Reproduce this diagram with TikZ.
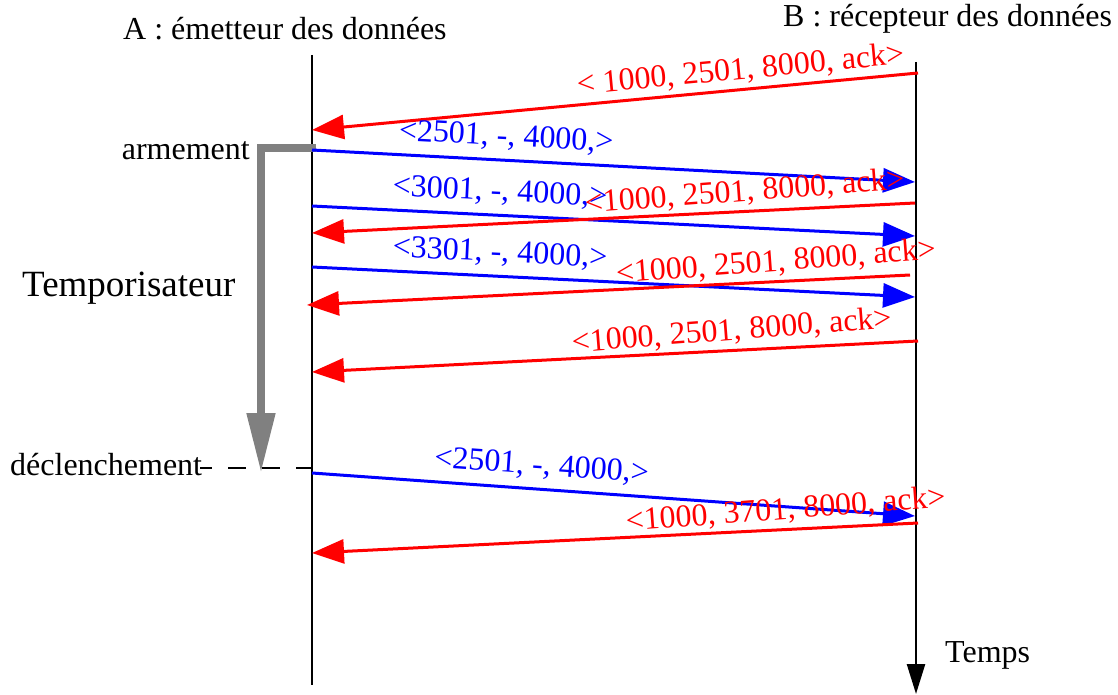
\documentclass[tikz,border=0pt]{standalone}
\usepackage{fontspec}
\setmainfont{Liberation Serif}
\usetikzlibrary{arrows.meta}
\tikzset{
  axe/.style = {line width=2.5pt},
  ack/.style = {red, line width=3pt, -{Triangle[length=32pt, width=24pt]}},
  data/.style = {blue, line width=3pt, -{Triangle[length=32pt, width=24pt]}},
  lbl/.style = {font=\fontsize{32}{38}\selectfont, sloped, inner sep=0pt},
  acklbl/.style = {lbl, rotate=1.5},
  txt/.style = {font=\fontsize{32}{38}\selectfont, inner sep=0pt}
}
\begin{document}
\begin{tikzpicture}[x = 1pt, y = -1pt]
	\useasboundingbox (0,0) rectangle (1118,695);
	% lignes de vie
	\coordinate (Ahaut) at (312,55);
	\coordinate (Abas) at (312,685);
	\coordinate (Bhaut) at (916,62);
	\coordinate (Bbas) at (916,694);
	\draw[axe] (Ahaut)--(Abas);
	\draw[axe, -{Triangle[length=30pt, width=18pt]}] (Bhaut)--(Bbas);
	\node[txt, anchor = base west] (emetteur) at (123,40) {A : émetteur des données};
	\node[txt, anchor = base west] (recepteur) at (783,27) {B : récepteur des données};
	\node[txt, anchor = base west] (temps) at (945,662) {Temps};
	% temporisateur
	\node[txt, anchor = base east] (armement) at (250,160) {armement};
	\node[txt, anchor = base west, font=\fontsize{37}{44}\selectfont] (tempo) at (22,296) {Temporisateur};
	\node[txt, anchor = base west] (declenchement) at (10,475) {déclenchement};
	\coordinate (Tdebut) at (316,148);
	\coordinate (Tcoin) at (261,148);
	\coordinate (Tfin) at (261,473);
	\draw[gray, line width=8pt, -{Triangle[length=60pt, width=27pt]}] (Tdebut)--(Tcoin)--(Tfin);
	\coordinate (Ddebut) at (200,468);
	\coordinate (Dfin) at (312,468);
	\draw[line width=1.5pt, dash pattern=on 18pt off 16pt, dash phase=6pt] (Ddebut)--(Dfin);
	% segments
	\coordinate (B1) at (918,73);  \coordinate (A1) at (312,130);
	\coordinate (A2) at (312,150); \coordinate (B2) at (915,182);
	\coordinate (A3) at (312,206); \coordinate (B3) at (915,236);
	\coordinate (B4) at (915,203); \coordinate (A4) at (312,233);
	\coordinate (A5) at (312,267); \coordinate (B5) at (915,297);
	\coordinate (B6) at (910,275); \coordinate (A6) at (307,305);
	\coordinate (B7) at (918,341); \coordinate (A7) at (312,372);
	\coordinate (A8) at (312,473); \coordinate (B8) at (915,516);
	\coordinate (B9) at (918,523); \coordinate (A9) at (312,553);
	\draw[ack] (B1)--(A1) node[lbl, pos=.29, above=4pt] {< 1000, 2501, 8000, ack>};
	\draw[data] (A2)--(B2) node[lbl, pos=.32, above=8pt] {<2501, -, 4000,>};
	\draw[data] (A3)--(B3) node[lbl, pos=.31, above=8pt] {<3001, -, 4000,>};
	\draw[ack] (B4)--(A4) node[acklbl, pos=.28, above=4pt] {<1000, 2501, 8000, ack>};
	\draw[data] (A5)--(B5) node[lbl, pos=.31, above=8pt] {<3301, -, 4000,>};
	\draw[ack] (B6)--(A6) node[acklbl, pos=.22, above=4pt] {<1000, 2501, 8000, ack>};
	\draw[ack] (B7)--(A7) node[acklbl, pos=.305, above=4pt] {<1000, 2501, 8000, ack>};
	\draw[data] (A8)--(B8) node[lbl, pos=.378, above=8pt] {<2501, -, 4000,>};
	\draw[ack] (B9)--(A9) node[acklbl, pos=.216, above=4pt] {<1000, 3701, 8000, ack>};
\end{tikzpicture}
\end{document}
